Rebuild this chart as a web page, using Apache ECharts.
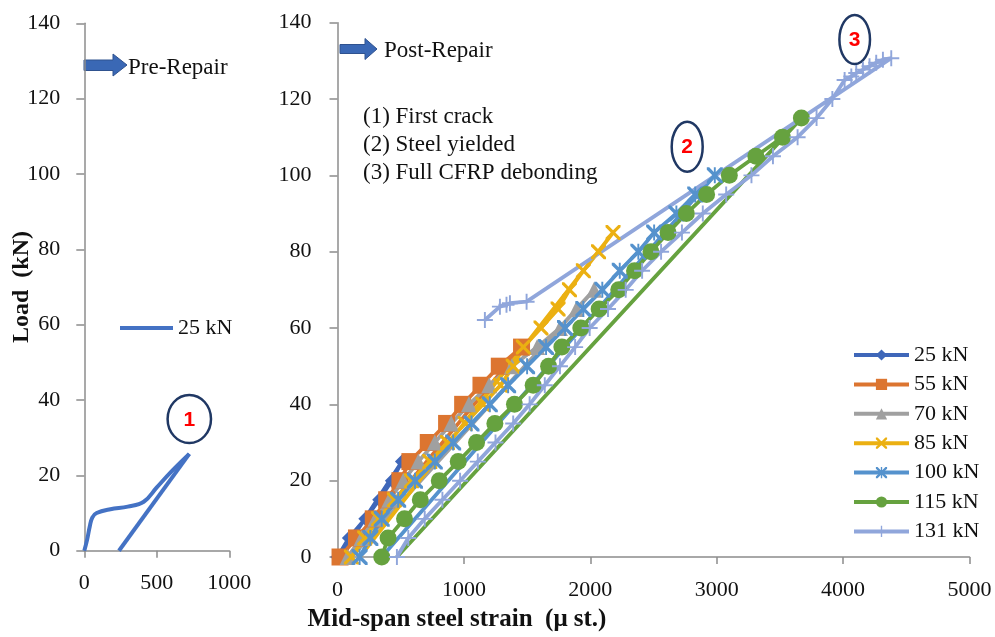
<!DOCTYPE html>
<html><head><meta charset="utf-8">
<script src="https://cdn.jsdelivr.net/npm/echarts@6/dist/echarts.min.js"></script>
<style>html,body{margin:0;padding:0;background:#fff}#c{width:995px;height:637px}</style>
</head><body><div id="c"></div>
<script>
// ---- Pre-repair (left panel) ----
const preLoadStrain = [0, 20, 38, 55, 85, 180, 300, 410, 500, 600, 724];
const preLoadLoad   = [0, 3, 6.5, 8.8, 10, 11, 11.7, 13, 16.8, 21, 25.7];
const preUnloadStrain = [724, 239];
const preUnloadLoad   = [25.7, 0];

// ---- Post-repair cycles (right panel) ----
const seriesNames = ['25 kN ', '55 kN', '70 kN', '85 kN', '100 kN', '115 kN', '131 kN'];
const s25 = [0, 90, 220, 330, 430, 510, 20];
const l25 = [0, 5, 10, 15, 20, 25, 0];
const s55 = [20, 150, 283, 389, 494, 573, 718, 863, 990, 1135, 1280, 1456, 80];
const l55 = [0, 5, 10, 15, 20, 25, 30, 35, 40, 45, 50, 55, 0];
const s70 = [80, 190, 300, 410, 520, 640, 770, 900, 1040, 1200, 1380, 1580, 1760, 1890, 2030, 110];
const l70 = [0, 5, 10, 15, 20, 25, 30, 35, 40, 45, 50, 55, 60, 65, 70, 0];
const s85 = [110, 215, 325, 450, 585, 730, 870, 1010, 1150, 1290, 1390, 1470, 1610, 1745, 1835, 1945, 2065, 2180, 175];
const l85 = [0, 5, 10, 15, 20, 25, 30, 35, 40, 45, 50, 55, 60, 65, 70, 75, 80, 85, 0];
const s100 = [175, 260, 350, 480, 613, 770, 915, 1060, 1205, 1350, 1500, 1650, 1800, 1945, 2095, 2233, 2380, 2505, 2681, 2830, 2985, 350];
const l100 = [0, 5, 10, 15, 20, 25, 30, 35, 40, 45, 50, 55, 60, 65, 70, 75, 80, 85, 90, 95, 100, 0];
const s115 = [350, 400, 530, 655, 805, 955, 1100, 1245, 1400, 1548, 1670, 1775, 1925, 2070, 2225, 2350, 2480, 2615, 2760, 2920, 3100, 3310, 3520, 3670, 470];
const l115 = [0, 5, 10, 15, 20, 25, 30, 35, 40, 45, 50, 55, 60, 65, 70, 75, 80, 85, 90, 95, 100, 105, 110, 115, 0];
const s131 = [470, 560, 690, 830, 970, 1110, 1250, 1390, 1520, 1640, 1760, 1880, 1995, 2140, 2280, 2410, 2560, 2725, 2890, 3075, 3275, 3445, 3640, 3790, 3915, 4012, 4065, 4104, 4157, 4209, 4262, 4315, 4381, 1496, 1364, 1337, 1285, 1166];
const l131 = [0, 5, 10, 15, 20, 25, 30, 35, 40, 45, 50, 55, 60, 65, 70, 75, 80, 85, 90, 95, 100, 105, 110, 115, 120, 125, 125.9, 126.8, 127.7, 128.6, 129.5, 130.3, 130.7, 66.9, 66.5, 66.1, 65.6, 62.1];

// ---- axis ticks ----
const loadTicks = [0, 20, 40, 60, 80, 100, 120, 140];
const preStrainTicks = [0, 500, 1000];
const postStrainTicks = [0, 1000, 2000, 3000, 4000, 5000];

const FONT = "'Liberation Serif', 'Times New Roman', serif";
const SANS = "'Liberation Sans', Arial, sans-serif";
const colors = ['#3F67B9', '#DC7530', '#A0A0A0', '#EBB012', '#5592CD', '#66A23F', '#90A6DB'];
const X_PATH = 'path://M0,0L3,0L10,7L17,0L20,0L20,3L13,10L20,17L20,20L17,20L10,13L3,20L0,20L0,17L7,10L0,3Z';
const AST_PATH = 'path://M0,0L3,0L10,7L17,0L20,0L20,3L13,10L20,17L20,20L17,20L10,13L3,20L0,20L0,17L7,10L0,3Z M8.8,0L11.2,0L11.2,20L8.8,20Z';
const PLUS_PATH = 'path://M8.8,0L11.2,0L11.2,8.8L20,8.8L20,11.2L11.2,11.2L11.2,20L8.8,20L8.8,11.2L0,11.2L0,8.8L8.8,8.8Z';
const symbols = ['diamond', 'rect', 'triangle', X_PATH, AST_PATH, 'circle', PLUS_PATH];
const symbolSizes = [14, 17, 16, 15, 16, 17, 16];

function pts(s, l, hideLast) {
  return s.map((x, i) => (hideLast && i === s.length - 1) ? { value: [x, l[i]], symbol: 'none' } : [x, l[i]]);
}
const postData = [
  pts(s25, l25, true), pts(s55, l55, true), pts(s70, l70, true), pts(s85, l85, true),
  pts(s100, l100, true), pts(s115, l115, true), pts(s131, l131, false)
];

const axisLineStyle = { color: '#8c8c8c', width: 1.5 };
const labelStyle = { color: '#111', fontFamily: FONT, fontSize: 22, formatter: v => String(v) };

function xAxis(grid, max, interval) {
  return {
    type: 'value', gridIndex: grid, min: 0, max: max, interval: interval,
    axisLine: { show: true, lineStyle: axisLineStyle },
    axisTick: { show: true, length: 7, lineStyle: axisLineStyle },
    splitLine: { show: false },
    axisLabel: Object.assign({ margin: 22 }, labelStyle)
  };
}
function yAxis(grid, margin) {
  return {
    type: 'value', gridIndex: grid, min: loadTicks[0], max: loadTicks[loadTicks.length - 1], interval: 20,
    axisLine: { show: true, lineStyle: axisLineStyle },
    axisTick: { show: true, length: 8, lineStyle: axisLineStyle },
    splitLine: { show: false },
    axisLabel: Object.assign({ margin: margin }, labelStyle)
  };
}

const series = [
  { name: '25 kN', type: 'line', xAxisIndex: 0, yAxisIndex: 0, smooth: 0.4, symbol: 'none',
    data: pts(preLoadStrain, preLoadLoad, false), lineStyle: { width: 4, color: '#4472C4' }, itemStyle: { color: '#4472C4' } },
  { name: '25 kN', type: 'line', xAxisIndex: 0, yAxisIndex: 0, symbol: 'none',
    data: pts(preUnloadStrain, preUnloadLoad, false), lineStyle: { width: 4, color: '#4472C4' }, itemStyle: { color: '#4472C4' } }
];
seriesNames.forEach((n, i) => {
  series.push({
    name: n, type: 'line', xAxisIndex: 1, yAxisIndex: 1,
    symbol: symbols[i], symbolSize: symbolSizes[i], showAllSymbol: true,
    data: postData[i],
    lineStyle: { width: 3.8, color: colors[i] },
    itemStyle: { color: colors[i] }
  });
});

const arrowStyle = { fill: '#3A68B5', stroke: '#2F528F', lineWidth: 1 };
const textStyle = (t, x, y, extra) => ({ type: 'text', x: x, y: y, style: Object.assign({ text: t, fill: '#111', fontFamily: FONT, fontSize: 23, align: 'left', verticalAlign: 'middle' }, extra || {}) });

const option = {
  animation: false,
  backgroundColor: '#fff',
  grid: [
    { left: 84.3, top: 23.3, width: 145, height: 527.4, outerBoundsMode: 'none' },
    { left: 337.5, top: 22.7, width: 632, height: 534.3, outerBoundsMode: 'none' }
  ],
  xAxis: [xAxis(0, preStrainTicks[2], 500), xAxis(1, postStrainTicks[5], 1000)],
  yAxis: [yAxis(0, 24), yAxis(1, 26)],
  legend: [
    { data: ['25 kN'], left: 120, top: 317, padding: 0, icon: 'rect', itemWidth: 53, itemHeight: 4, itemGap: 5,
      textStyle: { fontFamily: FONT, fontSize: 22, color: '#111', lineHeight: 22 } },
    { data: seriesNames, orient: 'vertical', left: 852, top: 344, padding: 0, itemWidth: 55, itemHeight: 14, itemGap: 7.4,
      lineStyle: { width: 4 },
      textStyle: { fontFamily: FONT, fontSize: 22, color: '#111', lineHeight: 22 } }
  ],
  series: series,
  graphic: [
    { type: 'polygon', shape: { points: [[84, 60], [113, 60], [113, 54], [127, 65], [113, 76], [113, 70.5], [84, 70.5]] }, style: arrowStyle },
    textStyle('Pre-Repair', 128, 68),
    { type: 'polygon', shape: { points: [[340, 44.5], [365, 44.5], [365, 38.5], [377, 49], [365, 59.5], [365, 53.5], [340, 53.5]] }, style: arrowStyle },
    textStyle('Post-Repair', 384, 51),
    textStyle('(1) First crack', 363, 117),
    textStyle('(2) Steel yielded', 363, 145),
    textStyle('(3) Full CFRP debonding', 363, 173),
    { type: 'ellipse', shape: { cx: 189.3, cy: 419, rx: 21.7, ry: 24 }, style: { fill: 'rgba(0,0,0,0)', stroke: '#203864', lineWidth: 2.5 } },
    { type: 'ellipse', shape: { cx: 687.2, cy: 146.7, rx: 15.5, ry: 25 }, style: { fill: 'rgba(0,0,0,0)', stroke: '#203864', lineWidth: 2.5 } },
    { type: 'ellipse', shape: { cx: 854.7, cy: 39.5, rx: 15.3, ry: 24.5 }, style: { fill: 'rgba(0,0,0,0)', stroke: '#203864', lineWidth: 2.5 } },
    textStyle('1', 189.3, 420, { fill: '#FF0000', fontFamily: SANS, fontWeight: 'bold', fontSize: 21, align: 'center' }),
    textStyle('2', 687.2, 147.5, { fill: '#FF0000', fontFamily: SANS, fontWeight: 'bold', fontSize: 21, align: 'center' }),
    textStyle('3', 854.7, 40.5, { fill: '#FF0000', fontFamily: SANS, fontWeight: 'bold', fontSize: 21, align: 'center' }),
    { type: 'text', x: 22, y: 287, rotation: Math.PI / 2,
      style: { text: 'Load  (kN)', fill: '#111', fontFamily: FONT, fontSize: 24, fontWeight: 'bold', align: 'center', verticalAlign: 'middle' } },
    textStyle('Mid-span steel strain  (μ st.)', 457, 620, { fontSize: 25, fontWeight: 'bold', align: 'center' })
  ]
};

const chart = echarts.init(document.getElementById('c'), null, { renderer: 'canvas' });
chart.setOption(option);
</script>
</body></html>
